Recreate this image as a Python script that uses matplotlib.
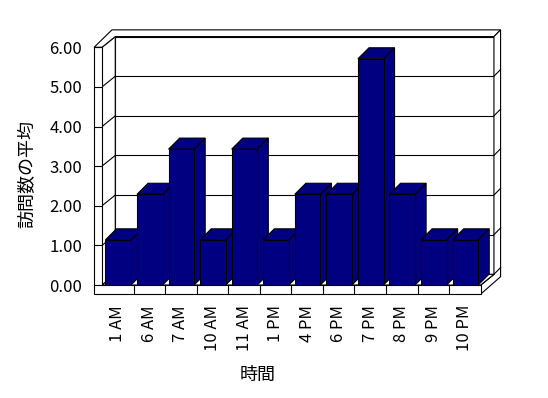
import numpy as np
import matplotlib.pyplot as plt
from matplotlib.patches import Polygon

plt.rcParams['font.family'] = ['Noto Sans CJK JP', 'DejaVu Sans']

hours = ['1 AM', '6 AM', '7 AM', '10 AM', '11 AM', '1 PM',
         '4 PM', '6 PM', '7 PM', '8 PM', '9 PM', '10 PM']
avg_visits = [1.14, 2.29, 3.43, 1.14, 3.43, 1.14, 2.29, 2.29, 5.71, 2.29, 1.14, 1.14]
yticks = [0, 1, 2, 3, 4, 5, 6]

navy = '#000080'
lw = 0.8

fig = plt.figure(figsize=(5.48, 3.98), dpi=100)
ax = fig.add_axes([102/548, 113/398, 378.7/548, 237.7/398])
n = len(hours)
ymax = yticks[-1]
ax.set_xlim(0, n)
ax.set_ylim(0, ymax)

# fake 3d: depth and wall thickness in data units
dx, dy = 0.42, 0.27
bx, by = 0.35, 0.278
tl = 0.25
tf = 0.23
tbx, tby = 0.21, 0.17


def poly(pts, fc='white', z=1):
    ax.add_patch(Polygon(pts, closed=True, fc=fc, ec='black', lw=lw,
                         zorder=z, clip_on=False))


def line(xs, ys, z=1):
    ax.plot(xs, ys, color='black', lw=lw, zorder=z, clip_on=False)


# back wall + gridlines
poly([(dx, dy), (n+dx, dy), (n+dx, ymax+dy), (dx, ymax+dy)])
for v in yticks[1:-1]:
    line([dx, n+dx], [v+dy, v+dy])
# left wall inner face
poly([(0, 0), (dx, dy), (dx, ymax+dy), (0, ymax)])
for v in yticks[1:-1]:
    line([0, dx], [v, v+dy])
# top rim
poly([(-tl, ymax), (0, ymax), (dx, ymax+dy), (n+dx, ymax+dy),
      (n+dx+tbx, ymax+dy+tby), (dx-tbx/2, ymax+dy+tby)])
# right side
poly([(n, -tf), (n, 0), (n+dx, dy), (n+dx, ymax+dy),
      (n+dx+tbx, ymax+dy+tby), (n+dx+tbx, -tf+dy+tby)])
line([n, n+dx], [0, dy])
for v in yticks[:-1]:
    line([n+dx, n+dx+tbx], [v+dy, v+dy+tby])
# floor top
poly([(0, 0), (n, 0), (n+dx, dy), (dx, dy)])
# front of left wall + floor
poly([(-tl, ymax), (0, ymax), (0, 0), (n, 0), (n, -tf), (-tl, -tf)])
for k in range(1, n):
    line([k, k], [-tf, 0])

# bars
w = 0.81
x0 = np.arange(n) + 0.11
for xi, v in zip(x0, avg_visits):
    poly([(xi+w, 0), (xi+w+bx, by), (xi+w+bx, v+by), (xi+w, v)], navy, 3)
    poly([(xi, v), (xi+w, v), (xi+w+bx, v+by), (xi+bx, v+by)], navy, 3)
    ax.bar(xi, v, w, align='edge', color=navy, edgecolor='black', lw=lw, zorder=3)

for s in ax.spines.values():
    s.set_visible(False)
ax.patch.set_visible(False)

ax.set_yticks(yticks, labels=[f'{v:.2f}' for v in yticks])
ax.set_xticks(np.arange(n) + 0.5, labels=hours, rotation=90)
ax.tick_params(axis='y', direction='out', length=5.8, width=lw, pad=8.6, labelsize=12)
ax.tick_params(axis='x', length=0, pad=14.4, labelsize=12)

ax.set_xlabel('時間', fontsize=13)
ax.xaxis.set_label_coords(0.412, -0.379)
ax.xaxis.label.set_va('center')
ax.set_ylabel('訪問数の平均', fontsize=13)
ax.yaxis.set_label_coords(-0.197, 0.469)
ax.yaxis.label.set_va('center')

fig.savefig('out.png', dpi=100)
